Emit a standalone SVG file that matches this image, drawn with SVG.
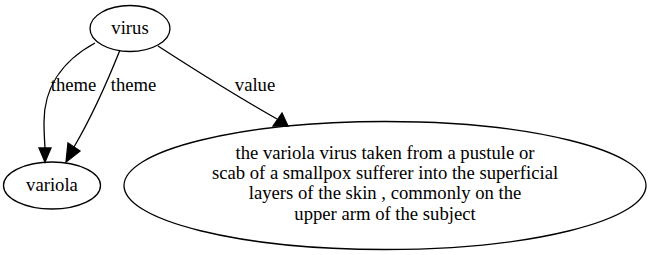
<svg xmlns="http://www.w3.org/2000/svg" width="651" height="255" viewBox="0 0 651 255">
  <!-- shared looks are set once per group as presentation attributes -->
  <g id="connectors" fill="none" stroke="#000" stroke-width="1.3">
    <g id="e-virus-variola-1">
      <path d="M95,43 C60,62 44,90 44,122 C44,133 44.5,140 45,148"/>
      <polygon fill="#000" points="39,148 51,148 45,162"/>
    </g>
    <g id="e-virus-variola-2">
      <path d="M120,50 C108,80 91,118 74,147"/>
      <polygon fill="#000" points="68,143 80,151 66,162"/>
    </g>
    <g id="e-virus-definition">
      <path d="M158,46 C195,70 240,98 277,119"/>
      <polygon fill="#000" points="273,126 282,113 288,126"/>
    </g>
  </g>
  <g id="edge-labels" font-family="Liberation Serif" font-size="18.67" fill="#000" text-anchor="middle">
    <text x="73.5" y="91">theme</text>
    <text x="133.5" y="91">theme</text>
    <text x="255" y="91">value</text>
  </g>

  <g id="virus">
    <ellipse cx="130" cy="28.5" rx="40" ry="23" fill="none" stroke="#000" stroke-width="1.3"/>
    <text x="130" y="34" font-family="Liberation Serif" font-size="18.67" text-anchor="middle">virus</text>
  </g>

  <g id="variola">
    <ellipse cx="52" cy="185.5" rx="48.5" ry="23.5" fill="none" stroke="#000" stroke-width="1.3"/>
    <text x="52" y="190.5" font-family="Liberation Serif" font-size="18.67" text-anchor="middle">variola</text>
  </g>

  <g id="definition">
    <ellipse cx="385" cy="185.5" rx="261" ry="64" fill="none" stroke="#000" stroke-width="1.3"/>
    <g font-family="Liberation Serif" font-size="18.67" text-anchor="middle">
      <text x="385" y="158.5">the variola virus taken from a pustule or</text>
      <text x="385" y="179">scab of a smallpox sufferer into the superficial</text>
      <text x="385" y="199">layers of the skin , commonly on the</text>
      <text x="385" y="219.5">upper arm of the subject</text>
    </g>
  </g>
</svg>
